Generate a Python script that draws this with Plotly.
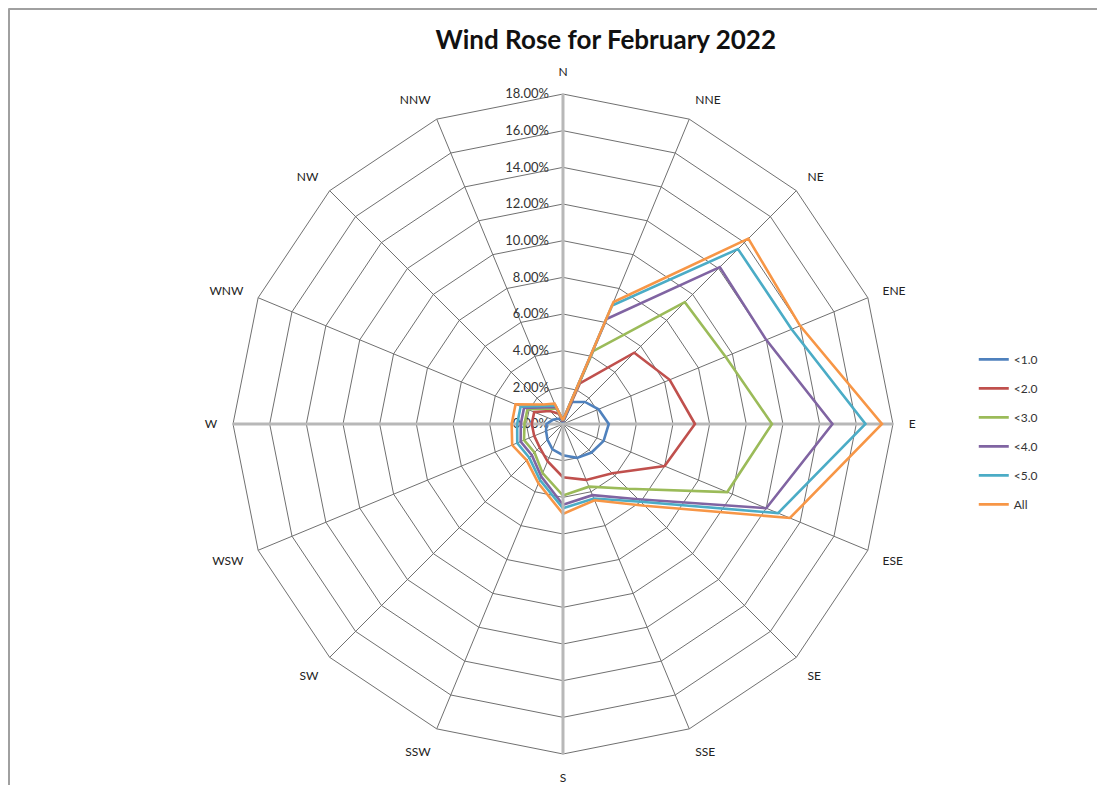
import plotly.graph_objects as go

directions = ["N", "NNE", "NE", "ENE", "E", "ESE", "SE", "SSE",
              "S", "SSW", "SW", "WSW", "W", "WNW", "NW", "NNW"]

# percent frequency (as fractions) per direction, cumulative speed classes
lt1 = [0.001, 0.013, 0.017, 0.021, 0.025, 0.024, 0.022, 0.020,
       0.017, 0.015, 0.012, 0.010, 0.009, 0.006, 0.004, 0.003]
lt2 = [0.0015, 0.024, 0.055, 0.063, 0.072, 0.060, 0.038, 0.033,
       0.029, 0.022, 0.018, 0.017, 0.017, 0.017, 0.010, 0.006]
lt3 = [0.002, 0.043, 0.094, 0.096, 0.114, 0.097, 0.050, 0.037,
       0.039, 0.029, 0.022, 0.023, 0.021, 0.021, 0.012, 0.009]
lt4 = [0.002, 0.062, 0.121, 0.120, 0.147, 0.120, 0.058, 0.042,
       0.044, 0.031, 0.024, 0.025, 0.023, 0.023, 0.013, 0.010]
lt5 = [0.002, 0.070, 0.135, 0.135, 0.165, 0.127, 0.060, 0.044,
       0.046, 0.033, 0.026, 0.027, 0.025, 0.025, 0.014, 0.011]
all_ = [0.002, 0.072, 0.143, 0.140, 0.174, 0.134, 0.063, 0.045,
        0.049, 0.035, 0.028, 0.030, 0.028, 0.028, 0.015, 0.012]

series = [("<1.0", lt1, "#4F81BD"), ("<2.0", lt2, "#C0504D"),
          ("<3.0", lt3, "#9BBB59"), ("<4.0", lt4, "#8064A2"),
          ("<5.0", lt5, "#4BACC6"), ("All", all_, "#F79646")]

radial_ticks = [i / 100 for i in range(0, 20, 2)]

DOMAIN = dict(x=[0.2036, 0.8009], y=[0.0497, 0.8904])
AXIS_GRAY = "#b8b8b8"
GRID_GRAY = "#707070"

fig = go.Figure()

# main grid subplot: register the direction categories (no visible marks)
fig.add_trace(go.Scatterpolar(r=[None] * len(directions), theta=directions,
                              subplot="polar", showlegend=False,
                              hoverinfo="skip", mode="lines"))
# helper subplots that only draw the light-gray axis lines toward E and W
for sp in ["polar2", "polar3"]:
    fig.add_trace(go.Scatterpolar(r=[], theta=[], subplot=sp, showlegend=False,
                                  hoverinfo="skip", mode="lines"))

# data series on the top-most subplot (also draws the S axis line)
for i, (name, vals, color) in enumerate(series):
    fig.add_trace(go.Scatterpolar(
        r=vals + vals[:1], theta=directions + directions[:1],
        mode="lines", name=name, legendgroup=f"g{i}", subplot="polar4",
        line=dict(color=color, width=2.6),
    ))


def axis_only(angle):
    return dict(
        domain=DOMAIN, bgcolor="rgba(0,0,0,0)", gridshape="linear",
        radialaxis=dict(range=[0, 0.18], angle=angle, showgrid=False,
                        showticklabels=False, ticks="", showline=True,
                        linecolor=AXIS_GRAY, linewidth=3),
        angularaxis=dict(showline=False, showgrid=False, showticklabels=False,
                         ticks="", direction="clockwise", rotation=90,
                         type="category", categoryorder="array",
                         categoryarray=directions),
    )


fig.update_layout(
    width=1105, height=785,
    margin=dict(l=0, r=0, t=0, b=0),
    paper_bgcolor="white", plot_bgcolor="white",
    font=dict(family="Lato, Open Sans, sans-serif", size=11, color="#333"),
    title=dict(text="<b>Wind Rose for February 2022</b>", x=0.541, xanchor="center",
               y=0.959, yanchor="middle",
               font=dict(family="Lato, Open Sans, sans-serif", size=26, color="#111")),
    polar=dict(
        domain=DOMAIN,
        bgcolor="white",
        gridshape="linear",
        radialaxis=dict(
            range=[0, 0.18], tickvals=radial_ticks, tickformat=".2%",
            angle=90, tickangle=90, side="counterclockwise",
            showline=True, linecolor=AXIS_GRAY, linewidth=3,
            gridcolor=GRID_GRAY, gridwidth=1.2,
            ticks="outside", ticklen=8, tickcolor="rgba(0,0,0,0)",
            tickfont=dict(size=13, color="#333"),
        ),
        angularaxis=dict(
            direction="clockwise", rotation=90,
            type="category", categoryorder="array", categoryarray=directions,
            showline=True, linecolor=GRID_GRAY, linewidth=1,
            gridcolor=GRID_GRAY, gridwidth=1.2,
            ticks="outside", ticklen=13, tickcolor="rgba(0,0,0,0)",
            tickfont=dict(size=12, color="#222"),
        ),
    ),
    polar2=axis_only(0),
    polar3=axis_only(180),
    polar4=axis_only(270),
    legend=dict(x=0.874, y=0.46, xanchor="left", yanchor="middle",
                tracegroupgap=10, font=dict(size=12, color="#333"),
                bgcolor="rgba(0,0,0,0)"),
    shapes=[
        dict(type="line", xref="paper", yref="paper", x0=0.5 / 1105, x1=1.0,
             y0=1 - 0.5 / 785, y1=1 - 0.5 / 785, line=dict(color="#a0a0a0", width=3)),
        dict(type="line", xref="paper", yref="paper", x0=0.5 / 1105, x1=0.5 / 1105,
             y0=0, y1=1 - 0.5 / 785, line=dict(color="#a0a0a0", width=3)),
    ],
)

fig.write_html("out.html")
